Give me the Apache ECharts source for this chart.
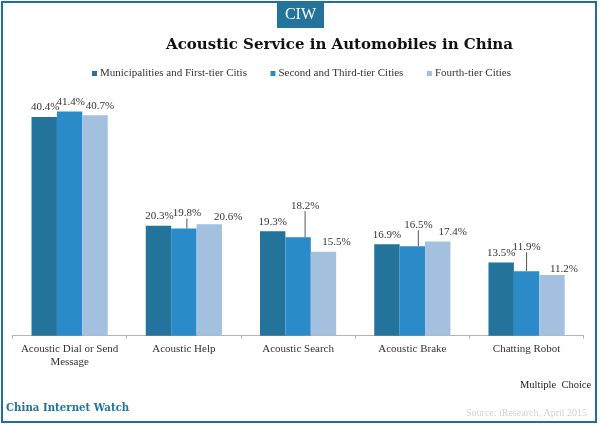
<!doctype html>
<html lang="en">
<head>
<meta charset="UTF-8"/>
<title>Acoustic Service in Automobiles in China</title>
<script src="https://cdn.jsdelivr.net/npm/echarts@6/dist/echarts.min.js"></script>
<style>
html,body{margin:0;padding:0;background:#fff;}
#chart{width:600px;height:425px;}
</style>
</head>
<body>
<div id="chart"></div>
<script>
// values
var categories = ['Acoustic Dial or Send\nMessage', 'Acoustic Help', 'Acoustic Search', 'Acoustic Brake', 'Chatting Robot'];
var seriesNames = ['Municipalities and First-tier Citis', 'Second and Third-tier Cities', 'Fourth-tier Cities'];
var firstTier = [40.4, 20.3, 19.3, 16.9, 13.5];
var secondTier = [41.4, 19.8, 18.2, 16.5, 11.9];
var fourthTier = [40.7, 20.6, 15.5, 17.4, 11.2];

// label nudges [dx, dy] for each series / category, as placed in the original
var labelShift = [
  [[1, 1], [1, 1], [0, 1], [0, 1], [0, 1]],
  [[1, 1], [3, -5], [7, -21], [6, -11], [0, -14]],
  [[5, 1], [19, 3], [13, 1], [15, 1], [12, 5]]
];
var hasLeader = [false, true, true, true, true];

var colors = ['#23739b', '#2b8bc8', '#a3c1de'];
var serif = '"Liberation Serif", serif';

function makeSeries(idx, values) {
  return {
    name: seriesNames[idx],
    type: 'bar',
    barWidth: 25.4,
    barGap: 0,
    itemStyle: { color: colors[idx] },
    data: values.map(function (v, i) {
      return {
        value: v,
        labelLine: { show: idx === 1 && hasLeader[i], lineStyle: { color: '#555', width: 1 } }
      };
    }),
    label: {
      show: true,
      position: 'top',
      distance: 5,
      color: '#333',
      fontFamily: serif,
      fontSize: 11,
      formatter: function (p) { return p.value.toFixed(1) + '%'; }
    },
    labelLayout: function (p) {
      var s = labelShift[idx][p.dataIndex];
      return { dx: s[0], dy: s[1] };
    }
  };
}

var myChart = echarts.init(document.getElementById('chart'));

myChart.setOption({
  animation: false,
  backgroundColor: '#fff',
  title: {
    text: 'Acoustic Service in Automobiles in China',
    left: 161,
    top: 33,
    textStyle: { fontFamily: '"DejaVu Serif", serif', fontWeight: 'bold', fontSize: 15, color: '#111' }
  },
  legend: {
    left: 87,
    top: 63,
    itemWidth: 5,
    itemHeight: 5,
    itemGap: 23.5,
    icon: 'rect',
    textStyle: { fontFamily: serif, fontSize: 11, color: '#333', padding: [0, 0, 0, -2] }
  },
  grid: { left: 12.5, right: 16.3, top: 92, bottom: 89.3 },
  xAxis: {
    type: 'category',
    data: categories,
    axisLine: { lineStyle: { color: '#b5b5b5' } },
    axisTick: { show: true, length: 3, lineStyle: { color: '#b5b5b5' } },
    axisLabel: { color: '#333', fontFamily: serif, fontSize: 11, margin: 7, lineHeight: 13, interval: 0 }
  },
  yAxis: { type: 'value', min: 0, max: 45, show: false },
  series: [makeSeries(0, firstTier), makeSeries(1, secondTier), makeSeries(2, fourthTier)],
  graphic: [
    { type: 'rect', z: 10, shape: { x: 2, y: 2, width: 594, height: 420 },
      style: { fill: 'none', stroke: '#1f6f99', lineWidth: 2 } },
    { type: 'rect', z: 11, shape: { x: 277, y: 2, width: 47, height: 26 }, style: { fill: '#23739b' } },
    { type: 'text', z: 12, x: 300.5, y: 15,
      style: { text: 'CIW', fill: '#fff', fontFamily: serif, fontSize: 16, align: 'center', verticalAlign: 'middle' } },
    { type: 'text', z: 12, x: 520, y: 385,
      style: { text: 'Multiple  Choice', fill: '#222', fontFamily: serif, fontSize: 10.5, verticalAlign: 'middle' } },
    { type: 'text', z: 12, x: 6, y: 408.5,
      style: { text: 'China Internet Watch', fill: '#23739b', fontFamily: '"DejaVu Serif", serif', fontWeight: 'bold', fontSize: 10.2, verticalAlign: 'middle' } },
    { type: 'text', z: 12, x: 466, y: 413,
      style: { text: 'Source: iResearch, April 2015', fill: '#d2d2d2', fontFamily: serif, fontSize: 10, verticalAlign: 'middle' } }
  ]
});
</script>
</body>
</html>
